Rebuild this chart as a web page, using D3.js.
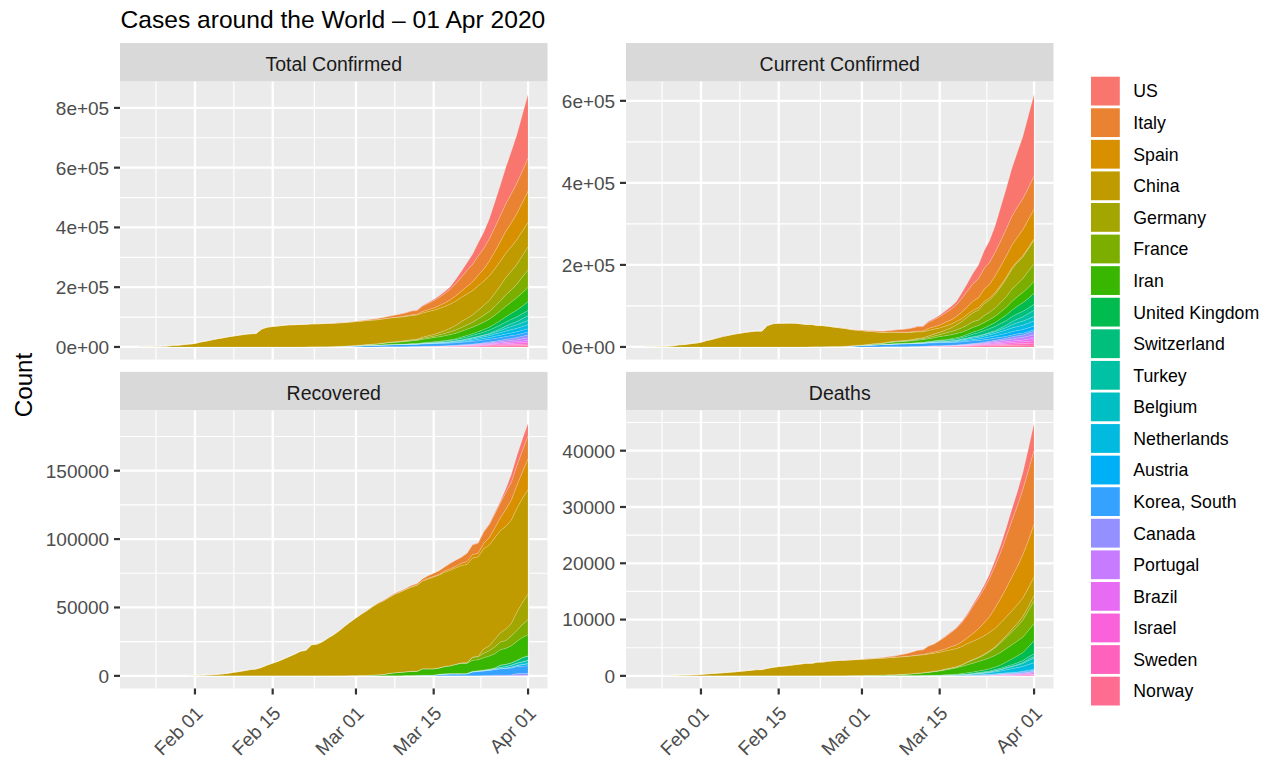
<!DOCTYPE html>
<html><head><meta charset="utf-8">
<script src="https://cdn.jsdelivr.net/npm/d3@7"></script>
<style>body{margin:0;background:#fff;} text{font-family:"Liberation Sans", Arial, Helvetica, sans-serif;}</style>
</head><body><svg id="chart" width="1271" height="759"></svg>
<script>
// ---------- categories ----------
const countries = ["US","Italy","Spain","China","Germany","France","Iran","United Kingdom","Switzerland","Turkey","Belgium","Netherlands","Austria","Korea, South","Canada","Portugal","Brazil","Israel","Sweden","Norway"];
const palette = ["#F8766D","#EA8331","#D89000","#C09B00","#A3A500","#7CAE00","#39B600","#00BB4E","#00BF7D","#00C1A3","#00BFC4","#00BAE0","#00B0F6","#35A2FF","#9590FF","#C77CFF","#E76BF3","#FA62DB","#FF62BC","#FF6C91"];
const firstDay = "2020-01-22", lastDay = "2020-04-01"; // one value per day
const facetTitles = ["Total Confirmed","Current Confirmed","Recovered","Deaths"];
const ticksTotal = [0,200000,400000,600000,800000];
const ticksCurrent = [0,200000,400000,600000];
const ticksRecovered = [0,50000,100000,150000];
const ticksDeaths = [0,10000,20000,30000,40000];
const xTickDates = ["2020-02-01","2020-02-15","2020-03-01","2020-03-15","2020-04-01"];

// ---------- series (daily, Jan 22 .. Apr 01) ----------
const confirmedUS=[1,1,2,2,5,5,5,5,5,7, 8,8,11,11,11,11,11,11,11,11, 12,12,13,13,13,13,13,13,13,13, 15,15,51,51,51,53,59,60,68,74, 98,118,149,217,262,402,518,583,959,1281, 1663,2179,2727,3499,4632,6421,7783,13747,19273,25600, 33276,43847,53740,65778,83836,101657,121478,140886,161807,188172, 213372];
const deathsUS=[0,0,0,0,0,0,0,0,0,0, 0,0,0,0,0,0,0,0,0,0, 0,0,0,0,0,0,0,0,0,0, 0,0,0,0,0,0,0,0,1,1, 6,7,11,12,14,17,21,22,28,36, 40,47,54,63,85,108,118,200,244,307, 427,552,706,942,1209,1581,2026,2467,2978,3873, 4757];
const recoveredUS=[0,0,0,0,0,0,0,0,0,0, 0,0,0,0,0,0,0,0,3,3, 3,3,3,3,3,3,3,3,3,3, 5,5,5,5,6,6,6,6,7,7, 7,7,7,7,7,7,7,7,8,8, 12,12,12,12,17,17,105,121,147,176, 178,348,361,681,869,1072,2665,5644,7024,8474, 9001];

const confirmedItaly=[0,0,0,0,0,0,0,0,0,2, 2,2,2,2,2,2,3,3,3,3, 3,3,3,3,3,3,3,3,3,3, 20,62,155,229,322,453,655,888,1128,1694, 2036,2502,3089,3858,4636,5883,7375,9172,10149,12462, 12462,17660,21157,24747,27980,31506,35713,41035,47021,53578, 59138,63927,69176,74386,80589,86498,92472,97689,101739,105792, 110574];
const deathsItaly=[0,0,0,0,0,0,0,0,0,0, 0,0,0,0,0,0,0,0,0,0, 0,0,0,0,0,0,0,0,0,0, 1,2,3,7,10,12,17,21,29,34, 52,79,107,148,197,233,366,463,631,827, 827,1266,1441,1809,2158,2503,2978,3405,4032,4825, 5476,6077,6820,7503,8215,9134,10023,10779,11591,12428, 13155];
const recoveredItaly=[0,0,0,0,0,0,0,0,0,0, 0,0,0,0,0,0,0,0,0,0, 0,0,0,0,0,0,0,0,0,0, 0,1,2,2,2,3,45,46,46,83, 149,160,276,414,523,589,622,724,724,1045, 1045,1439,1966,2335,2749,2941,4025,4440,4440,6072, 7024,7432,8326,9362,10361,10950,12384,13030,14620,15729, 16847];

const confirmedSpain=[0,0,0,0,0,0,0,0,0,0, 1,1,1,1,1,1,1,1,2,2, 2,2,2,2,2,2,2,2,2,2, 2,2,2,2,6,13,15,32,45,84, 120,165,222,259,400,500,673,1073,1695,2277, 2277,5232,6391,7798,9942,11748,13910,17963,20410,25374, 28768,35136,39885,49515,57786,65719,73235,80110,87956,95923, 104118];
const deathsSpain=[0,0,0,0,0,0,0,0,0,0, 0,0,0,0,0,0,0,0,0,0, 0,0,0,0,0,0,0,0,0,0, 0,0,0,0,0,0,0,0,0,0, 0,1,2,3,5,10,17,28,35,54, 55,133,195,289,342,533,623,830,1043,1375, 1772,2311,2808,3647,4365,5138,5982,6803,7716,8464, 9387];
const recoveredSpain=[0,0,0,0,0,0,0,0,0,0, 0,0,0,0,0,0,0,0,0,0, 0,0,0,0,2,2,2,2,2,2, 2,2,2,2,2,2,2,2,2,2, 2,2,2,2,2,30,30,32,32,183, 183,193,517,517,530,1028,1081,1107,1588,2125, 2575,2575,3794,5367,7015,9357,12285,14709,16780,19259, 22647];

const confirmedChina=[548,643,920,1406,2075,2877,5509,6087,8141,9802, 11891,16630,19716,23707,27440,30587,34110,36814,39829,42354, 44386,44759,59895,66358,68413,70513,72434,74211,74619,75077, 75550,77001,77022,77241,77754,78166,78600,78928,79356,79932, 80136,80261,80386,80537,80690,80770,80823,80860,80887,80921, 80932,80945,80977,81003,81033,81058,81102,81156,81250,81305, 81435,81498,81591,81661,81782,81897,81999,82122,82198,82279, 82361];
const deathsChina=[17,18,26,42,56,82,131,133,171,213, 259,361,425,490,562,632,717,804,904,1011, 1111,1116,1368,1520,1662,1765,1863,2002,2114,2236, 2236,2441,2443,2593,2663,2715,2744,2788,2835,2870, 2912,2945,2981,3013,3070,3097,3119,3136,3158,3169, 3176,3189,3199,3213,3226,3237,3245,3249,3253,3259, 3274,3274,3281,3285,3291,3296,3299,3304,3308,3309, 3316];
const recoveredChina=[28,30,36,39,49,58,101,120,135,214, 275,463,614,843,1115,1476,1999,2596,3219,3918, 4636,5082,6217,7977,9298,10755,12462,14206,15962,18014, 18704,22699,23187,25015,27676,30084,32930,36329,39320,42162, 44854,47450,50001,52292,53944,55539,57388,58804,60181,61644, 62901,64196,65660,67017,67910,68798,69755,70535,71266,71857, 72362,72814,73280,73773,74181,74720,75100,75582,75923,76206, 76405];

const confirmedGermany=[0,0,0,0,0,1,4,4,4,5, 8,10,12,12,12,12,13,13,14,14, 16,16,16,16,16,16,16,16,16,16, 16,16,16,16,17,27,46,48,79,130, 159,196,262,482,670,799,1040,1176,1457,1908, 2078,3675,4585,5795,7272,9257,12327,15320,19848,22213, 24873,29056,32986,37323,43938,50871,57695,62095,66885,71808, 77872];
const deathsGermany=[0,0,0,0,0,0,0,0,0,0, 0,0,0,0,0,0,0,0,0,0, 0,0,0,0,0,0,0,0,0,0, 0,0,0,0,0,0,0,0,0,0, 0,0,0,0,0,0,0,2,2,3, 3,7,9,11,17,24,28,44,67,84, 94,123,157,206,267,342,433,533,645,775, 920];
const recoveredGermany=[0,0,0,0,0,0,0,0,0,0, 0,0,0,0,0,0,0,0,0,0, 0,0,1,1,1,1,1,12,12,12, 14,14,14,14,14,15,16,16,16,16, 16,16,16,16,17,18,18,18,18,25, 25,46,46,46,67,67,105,113,180,233, 266,266,3243,3547,5673,6658,8481,9211,13500,16100, 18700];

const confirmedFrance=[0,0,2,3,3,3,4,5,5,5, 6,6,6,6,6,6,6,11,11,11, 11,11,11,11,12,12,12,12,12,12, 12,12,12,12,14,18,38,57,100,130, 191,204,288,380,656,959,1136,1219,1794,2293, 2293,3681,4496,4532,6683,7715,9124,10970,12758,14463, 16243,20123,22622,25600,29551,33402,38105,40708,45170,52827, 57749];
const deathsFrance=[0,0,0,0,0,0,0,0,0,0, 0,0,0,0,0,0,0,0,0,0, 0,0,0,0,1,1,1,1,1,1, 1,1,1,1,1,2,2,2,2,2, 3,4,4,6,9,11,19,19,33,48, 48,79,91,91,148,148,148,243,450,562, 674,860,1100,1331,1696,1995,2314,2606,3024,3523, 4043];
const recoveredFrance=[0,0,0,0,0,0,0,0,0,0, 0,0,0,0,0,0,0,0,0,0, 0,2,2,2,4,4,4,4,4,4, 4,4,4,4,11,11,11,11,12,12, 12,12,12,12,12,12,12,12,12,12, 12,12,12,12,12,12,12,12,12,12, 2200,2206,3250,3907,4955,5707,5724,7226,7964,9513, 11053];

const confirmedIran=[0,0,0,0,0,0,0,0,0,0, 0,0,0,0,0,0,0,0,0,0, 0,0,0,0,0,0,0,0,2,5, 18,28,43,61,95,139,245,388,593,978, 1501,2336,2922,3513,4747,5823,6566,7161,8042,9000, 10075,11364,12729,13938,14991,16169,17361,18407,19644,20610, 21638,23049,24811,27017,29406,32332,35408,38309,41495,44605, 47593];
const deathsIran=[0,0,0,0,0,0,0,0,0,0, 0,0,0,0,0,0,0,0,0,0, 0,0,0,0,0,0,0,0,2,2, 4,5,8,12,16,19,26,34,43,54, 66,77,92,107,124,145,194,237,291,354, 429,514,611,724,853,988,1135,1284,1433,1556, 1685,1812,1934,2077,2234,2378,2517,2640,2757,2898, 3036];
const recoveredIran=[0,0,0,0,0,0,0,0,0,0, 0,0,0,0,0,0,0,0,0,0, 0,0,0,0,0,0,0,0,0,0, 0,0,0,0,49,49,49,73,123,175, 291,291,552,739,913,1669,2134,2394,2731,2959, 2959,4590,4590,4590,4590,5389,5710,6745,7635,7635, 7931,7931,8913,9625,10457,11133,11679,12391,13911,14656, 15473];

const confirmedUK=[0,0,0,0,0,0,0,0,0,2, 2,2,2,2,2,2,3,3,3,8, 8,9,9,9,9,9,9,9,9,9, 9,9,9,13,13,13,15,20,23,36, 40,51,86,116,164,209,278,321,383,460, 460,798,1140,1145,1551,1960,2642,2716,4014,5067, 5745,6726,8164,9640,11812,14745,17312,19780,22453,25481, 29865];
const deathsUK=[0,0,0,0,0,0,0,0,0,0, 0,0,0,0,0,0,0,0,0,0, 0,0,0,0,0,0,0,0,0,0, 0,0,0,0,0,0,0,0,0,0, 0,0,0,1,2,2,3,4,6,8, 8,8,21,21,56,56,72,138,178,234, 282,336,423,466,580,761,1021,1231,1411,1793, 2357];
const recoveredUK=[0,0,0,0,0,0,0,0,0,0, 0,0,0,0,0,0,0,0,0,0, 1,1,1,1,1,1,8,8,8,8, 8,8,8,8,8,8,8,8,8,8, 8,8,8,8,18,18,18,18,18,18, 19,19,19,19,52,53,53,67,67,67, 65,65,65,93,135,135,135,135,135,135, 179];

const confirmedSwitzerland=[0,0,0,0,0,0,0,0,0,0, 0,0,0,0,0,0,0,0,0,0, 0,0,0,0,0,0,0,0,0,0, 0,0,0,0,1,1,8,8,18,27, 42,56,90,114,214,268,337,374,491,652, 652,1139,1359,2200,2200,2700,3028,4075,5294,6575, 7474,8795,9877,10897,11811,12928,14076,14829,15922,16605, 17768];
const deathsSwitzerland=[0,0,0,0,0,0,0,0,0,0, 0,0,0,0,0,0,0,0,0,0, 0,0,0,0,0,0,0,0,0,0, 0,0,0,0,0,0,0,0,0,0, 0,0,0,1,1,1,2,2,3,4, 4,11,13,14,14,27,28,41,54,75, 98,120,122,153,191,231,264,300,359,433, 488];
const recoveredSwitzerland=[0,0,0,0,0,0,0,0,0,0, 0,0,0,0,0,0,0,0,0,0, 0,0,0,0,0,0,0,0,0,0, 0,0,0,0,0,0,0,0,0,0, 0,0,2,2,3,3,3,3,3,4, 4,4,4,4,4,4,15,15,15,15, 131,131,131,131,131,1530,1530,1595,1823,2967, 2967];

const confirmedTurkey=[0,0,0,0,0,0,0,0,0,0, 0,0,0,0,0,0,0,0,0,0, 0,0,0,0,0,0,0,0,0,0, 0,0,0,0,0,0,0,0,0,0, 0,0,0,0,0,0,0,0,0,1, 1,5,5,6,18,47,98,192,359,670, 1236,1529,1872,2433,3629,5698,7402,9217,10827,13531, 15679];
const deathsTurkey=[0,0,0,0,0,0,0,0,0,0, 0,0,0,0,0,0,0,0,0,0, 0,0,0,0,0,0,0,0,0,0, 0,0,0,0,0,0,0,0,0,0, 0,0,0,0,0,0,0,0,0,0, 0,0,0,0,0,1,1,3,4,9, 30,37,44,59,75,92,108,131,168,214, 277];
const recoveredTurkey=[0,0,0,0,0,0,0,0,0,0, 0,0,0,0,0,0,0,0,0,0, 0,0,0,0,0,0,0,0,0,0, 0,0,0,0,0,0,0,0,0,0, 0,0,0,0,0,0,0,0,0,0, 0,0,0,0,0,0,0,0,0,0, 0,0,0,26,26,42,70,105,105,243, 333];

const confirmedBelgium=[0,0,0,0,0,0,0,0,0,0, 0,0,0,1,1,1,1,1,1,1, 1,1,1,1,1,1,1,1,1,1, 1,1,1,1,1,1,1,1,1,2, 8,13,23,50,109,169,200,239,267,314, 314,559,689,886,1058,1243,1486,1795,2257,2815, 3401,3743,4269,4937,6235,7284,9134,10836,11899,12775, 13964];
const deathsBelgium=[0,0,0,0,0,0,0,0,0,0, 0,0,0,0,0,0,0,0,0,0, 0,0,0,0,0,0,0,0,0,0, 0,0,0,0,0,0,0,0,0,0, 0,0,0,0,0,0,0,0,0,3, 3,3,4,4,5,10,14,21,37,67, 75,88,122,178,220,289,353,431,513,705, 828];
const recoveredBelgium=[0,0,0,0,0,0,0,0,0,0, 0,0,0,0,0,0,0,0,0,0, 0,0,0,0,0,0,0,0,0,0, 1,1,1,1,1,1,1,1,1,1, 1,1,1,1,1,1,1,1,1,1, 1,1,1,1,1,1,1,1,1,1, 263,340,410,547,675,858,1063,1359,1527,1696, 2132];

const confirmedNetherlands=[0,0,0,0,0,0,0,0,0,0, 0,0,0,0,0,0,0,0,0,0, 0,0,0,0,0,0,0,0,0,0, 0,0,0,0,0,0,1,1,6,10, 18,24,38,82,128,188,265,321,382,503, 503,806,962,1138,1416,1711,2058,2467,3003,3640, 4216,4764,5580,6438,7468,8647,9819,10930,11817,12667, 13696];
const deathsNetherlands=[0,0,0,0,0,0,0,0,0,0, 0,0,0,0,0,0,0,0,0,0, 0,0,0,0,0,0,0,0,0,0, 0,0,0,0,0,0,0,0,0,0, 0,0,0,0,1,1,3,3,4,5, 5,10,12,20,24,43,58,77,107,137, 180,214,277,357,435,547,640,772,865,1040, 1175];
const recoveredNetherlands=[0,0,0,0,0,0,0,0,0,0, 0,0,0,0,0,0,0,0,0,0, 0,0,0,0,0,0,0,0,0,0, 0,0,0,0,0,0,0,0,0,0, 0,0,0,0,0,0,0,0,0,0, 0,0,0,0,0,0,0,0,0,2, 2,2,2,3,3,3,3,253,253,253, 254];

const confirmedAustria=[0,0,0,0,0,0,0,0,0,0, 0,0,0,0,0,0,0,0,0,0, 0,0,0,0,0,0,0,0,0,0, 0,0,0,0,2,2,3,3,9,14, 18,21,29,41,55,79,104,131,182,246, 302,504,655,860,1018,1332,1646,2013,2388,2814, 3582,4474,5283,5588,6909,7657,8271,8788,9618,10180, 10711];
const deathsAustria=[0,0,0,0,0,0,0,0,0,0, 0,0,0,0,0,0,0,0,0,0, 0,0,0,0,0,0,0,0,0,0, 0,0,0,0,0,0,0,0,0,0, 0,0,0,0,0,0,0,0,0,0, 1,1,1,1,3,3,4,6,6,8, 16,21,28,30,49,58,68,86,108,128, 146];
const recoveredAustria=[0,0,0,0,0,0,0,0,0,0, 0,0,0,0,0,0,0,0,0,0, 0,0,0,0,0,0,0,0,0,0, 0,0,0,0,0,0,0,0,0,0, 0,0,0,0,0,0,0,0,0,0, 0,6,6,6,6,9,9,9,9,9, 9,9,9,9,9,225,225,479,636,1095, 1436];

const confirmedKorea=[1,1,2,2,3,4,4,4,4,11, 12,15,15,16,19,23,24,24,25,27, 28,28,28,28,28,29,30,31,31,104, 204,433,602,833,977,1261,1766,2337,3150,3736, 4335,5186,5621,6088,6593,7041,7314,7478,7513,7755, 7869,7979,8086,8162,8236,8320,8413,8565,8652,8799, 8897,8961,9037,9137,9241,9332,9478,9583,9661,9786, 9887];
const deathsKorea=[0,0,0,0,0,0,0,0,0,0, 0,0,0,0,0,0,0,0,0,0, 0,0,0,0,0,0,0,0,0,1, 2,2,6,8,10,12,13,13,16,17, 28,28,35,35,42,44,50,53,54,60, 66,66,72,75,75,81,84,91,94,102, 104,111,111,120,126,131,139,144,152,158, 165];
const recoveredKorea=[0,0,0,0,0,0,0,0,0,0, 0,0,0,0,0,1,1,1,1,3, 3,7,7,7,9,9,10,12,12,16, 16,16,18,18,22,22,22,22,27,30, 30,30,30,41,41,135,135,135,247,288, 333,510,510,510,1137,1407,1540,1540,1540,1540, 2909,3166,3507,3730,4144,4528,4811,5033,5228,5408, 5567];

const confirmedCanada=[0,0,0,0,1,1,2,2,2,4, 4,4,4,4,5,5,7,7,7,7, 7,7,7,7,7,7,8,8,8,8, 9,9,9,10,11,11,13,14,20,24, 27,30,33,37,49,54,64,77,79,108, 117,193,198,252,415,478,657,800,943,1277, 1469,2088,2790,3251,4042,4682,5576,6280,7398,8527, 9560];
const deathsCanada=[0,0,0,0,0,0,0,0,0,0, 0,0,0,0,0,0,0,0,0,0, 0,0,0,0,0,0,0,0,0,0, 0,0,0,0,0,0,0,0,0,0, 0,0,0,0,0,0,0,1,1,1, 1,1,1,1,4,5,8,9,12,19, 21,25,26,30,38,54,61,64,80,101, 109];
const recoveredCanada=[0,0,0,0,0,0,0,0,0,0, 0,0,0,0,0,0,0,0,0,0, 0,0,0,0,0,0,0,0,0,0, 0,0,0,0,0,3,3,3,3,6, 6,6,6,6,6,6,6,6,6,8, 8,8,8,9,9,9,9,9,9,9, 9,9,112,184,466,466,466,466,1324,1324, 1324];

const confirmedPortugal=[0,0,0,0,0,0,0,0,0,0, 0,0,0,0,0,0,0,0,0,0, 0,0,0,0,0,0,0,0,0,0, 0,0,0,0,0,0,0,0,0,0, 2,2,5,8,13,20,30,30,41,59, 59,112,169,245,331,448,448,785,1020,1280, 1600,2060,2362,2995,3544,4268,5170,5962,6408,7443, 8251];
const deathsPortugal=[0,0,0,0,0,0,0,0,0,0, 0,0,0,0,0,0,0,0,0,0, 0,0,0,0,0,0,0,0,0,0, 0,0,0,0,0,0,0,0,0,0, 0,0,0,0,0,0,0,0,0,0, 0,0,0,0,0,1,2,3,6,12, 14,23,33,43,60,76,100,119,140,160, 187];
const recoveredPortugal=[0,0,0,0,0,0,0,0,0,0, 0,0,0,0,0,0,0,0,0,0, 0,0,0,0,0,0,0,0,0,0, 0,0,0,0,0,0,0,0,0,0, 0,0,0,0,0,0,0,0,0,0, 0,1,2,2,3,3,3,5,5,5, 5,14,22,22,43,43,43,43,43,43, 68];

const confirmedBrazil=[0,0,0,0,0,0,0,0,0,0, 0,0,0,0,0,0,0,0,0,0, 0,0,0,0,0,0,0,0,0,0, 0,0,0,0,0,1,1,1,2,2, 2,2,4,4,13,13,20,25,31,38, 52,151,151,162,200,321,372,621,793,1021, 1546,1924,2247,2554,2985,3417,3904,4256,4579,5717, 6836];
const deathsBrazil=[0,0,0,0,0,0,0,0,0,0, 0,0,0,0,0,0,0,0,0,0, 0,0,0,0,0,0,0,0,0,0, 0,0,0,0,0,0,0,0,0,0, 0,0,0,0,0,0,0,0,0,0, 0,0,0,0,0,1,3,6,11,15, 25,34,46,59,77,92,111,136,159,201, 240];
const recoveredBrazil=[0,0,0,0,0,0,0,0,0,0, 0,0,0,0,0,0,0,0,0,0, 0,0,0,0,0,0,0,0,0,0, 0,0,0,0,0,0,0,0,0,0, 0,0,0,0,0,0,0,0,0,0, 0,0,0,0,0,2,2,2,2,2, 2,2,2,2,6,6,6,6,120,127, 127];

const confirmedIsrael=[0,0,0,0,0,0,0,0,0,0, 0,0,0,0,0,0,0,0,0,0, 0,0,0,0,0,0,0,0,0,0, 1,1,1,1,1,2,3,3,3,7, 10,10,12,15,20,37,43,61,61,75, 100,126,161,200,250,304,427,529,712,883, 1071,1238,1656,2369,2693,3035,3619,4247,4695,5358, 6092];
const deathsIsrael=[0,0,0,0,0,0,0,0,0,0, 0,0,0,0,0,0,0,0,0,0, 0,0,0,0,0,0,0,0,0,0, 0,0,0,0,0,0,0,0,0,0, 0,0,0,0,0,0,0,0,0,0, 0,0,0,0,0,0,0,0,0,1, 1,1,3,5,8,12,12,15,16,20, 26];
const recoveredIsrael=[0,0,0,0,0,0,0,0,0,0, 0,0,0,0,0,0,0,0,0,0, 0,0,0,0,0,0,0,0,0,0, 0,0,0,0,0,0,0,0,0,0, 1,1,1,1,1,1,1,1,1,2, 2,4,4,4,11,11,11,11,11,11, 37,37,37,68,68,79,89,132,132,161, 224];

const confirmedSweden=[0,0,0,0,0,0,0,0,0,1, 1,1,1,1,1,1,1,1,1,1, 1,1,1,1,1,1,1,1,1,1, 1,1,1,1,1,2,7,7,12,14, 15,21,35,94,101,161,203,248,355,500, 599,814,961,1022,1103,1190,1279,1439,1639,1763, 1934,2046,2286,2526,2840,3069,3447,3700,4028,4435, 4947];
const deathsSweden=[0,0,0,0,0,0,0,0,0,0, 0,0,0,0,0,0,0,0,0,0, 0,0,0,0,0,0,0,0,0,0, 0,0,0,0,0,0,0,0,0,0, 0,0,0,0,0,0,0,0,0,0, 1,1,2,3,6,7,10,11,16,20, 21,25,36,62,77,105,105,110,146,180, 239];
const recoveredSweden=[0,0,0,0,0,0,0,0,0,0, 0,0,0,0,0,0,0,0,0,0, 0,0,0,0,0,0,0,0,0,0, 0,0,0,0,0,0,0,0,0,0, 0,0,0,0,0,0,0,0,0,0, 1,1,1,1,1,1,1,1,16,16, 16,16,16,16,16,16,16,16,16,16, 16];

const confirmedNorway=[0,0,0,0,0,0,0,0,0,0, 0,0,0,0,0,0,0,0,0,0, 0,0,0,0,0,0,0,0,0,0, 0,0,0,0,0,1,1,6,15,19, 25,32,56,87,108,147,176,205,400,598, 702,996,1090,1221,1333,1463,1550,1746,1914,2118, 2385,2621,2863,3084,3369,3755,4015,4284,4445,4641, 4863];
const deathsNorway=[0,0,0,0,0,0,0,0,0,0, 0,0,0,0,0,0,0,0,0,0, 0,0,0,0,0,0,0,0,0,0, 0,0,0,0,0,0,0,0,0,0, 0,0,0,0,0,0,0,0,0,0, 0,0,1,1,3,3,3,3,6,7, 7,10,12,14,14,19,23,25,32,39, 44];
const recoveredNorway=[0,0,0,0,0,0,0,0,0,0, 0,0,0,0,0,0,0,0,0,0, 0,0,0,0,0,0,0,0,0,0, 0,0,0,0,0,0,0,0,0,0, 0,0,0,0,0,0,0,0,0,0, 1,1,1,1,1,1,1,1,1,1, 1,6,6,6,6,7,7,7,7,7, 7];

// ---------- assemble (order = countries) ----------
const confirmedSeries=[confirmedUS,confirmedItaly,confirmedSpain,confirmedChina,confirmedGermany,confirmedFrance,confirmedIran,confirmedUK,confirmedSwitzerland,confirmedTurkey,confirmedBelgium,confirmedNetherlands,confirmedAustria,confirmedKorea,confirmedCanada,confirmedPortugal,confirmedBrazil,confirmedIsrael,confirmedSweden,confirmedNorway];
const deathsSeries=[deathsUS,deathsItaly,deathsSpain,deathsChina,deathsGermany,deathsFrance,deathsIran,deathsUK,deathsSwitzerland,deathsTurkey,deathsBelgium,deathsNetherlands,deathsAustria,deathsKorea,deathsCanada,deathsPortugal,deathsBrazil,deathsIsrael,deathsSweden,deathsNorway];
const recoveredSeries=[recoveredUS,recoveredItaly,recoveredSpain,recoveredChina,recoveredGermany,recoveredFrance,recoveredIran,recoveredUK,recoveredSwitzerland,recoveredTurkey,recoveredBelgium,recoveredNetherlands,recoveredAustria,recoveredKorea,recoveredCanada,recoveredPortugal,recoveredBrazil,recoveredIsrael,recoveredSweden,recoveredNorway];
// current confirmed = confirmed - recovered - deaths
const currentSeries = confirmedSeries.map((s,k)=> s.map((v,i)=> v - recoveredSeries[k][i] - deathsSeries[k][i]));

const parseDay = d3.utcParse("%Y-%m-%d");
const dates = d3.utcDay.range(parseDay(firstDay), d3.utcDay.offset(parseDay(lastDay),1));

const svg = d3.select("#chart");

// ---------- layout ----------
const colX=[120, 626], panelW=427.5;
const stripTop=[43, 371.9], stripH=38.6, panelH=278;
const fmtSci = v => { if(v===0) return "0e+00"; const e=Math.floor(Math.log10(v)); const m=Math.round(v/Math.pow(10,e)); return m+"e+"+String(e).padStart(2,"0"); };
const fmtPlain = v => String(v);
const facets=[
 {title:facetTitles[0], series:confirmedSeries, ticks:ticksTotal, fmt:fmtSci, c:0, r:0},
 {title:facetTitles[1], series:currentSeries, ticks:ticksCurrent, fmt:fmtSci, c:1, r:0},
 {title:facetTitles[2], series:recoveredSeries, ticks:ticksRecovered, fmt:fmtPlain, c:0, r:1},
 {title:facetTitles[3], series:deathsSeries, ticks:ticksDeaths, fmt:fmtPlain, c:1, r:1},
];

const d0=dates[0], d1=dates[dates.length-1];
const padMs=(d1-d0)*0.05;
const xMajor = xTickDates.map(parseDay);
// minor breaks: midpoints between majors, extended one step beyond each end
function minorsOf(major, lo, hi){
  const b=major.map(Number);
  const first=b[1]-b[0], last=b[b.length-1]-b[b.length-2];
  const ext=[b[0]-first, ...b, b[b.length-1]+last];
  const out=[];
  for(let i=0;i<ext.length-1;i++){ const m=(ext[i]+ext[i+1])/2; if(m>=lo && m<=hi) out.push(m); }
  return out;
}

const keysBottomUp = countries.slice().reverse();
const colorOf = new Map(countries.map((c,i)=>[c,palette[i]]));

facets.forEach(f=>{
  const x0=colX[f.c], sTop=stripTop[f.r], pTop=sTop+stripH, pBot=pTop+panelH;
  const table = dates.map((d,i)=>{ const o={date:d}; countries.forEach((c,k)=>o[c]=f.series[k][i]); return o; });
  const layers = d3.stack().keys(keysBottomUp)(table);
  const M = d3.max(layers[layers.length-1], d=>d[1]);
  const y = d3.scaleLinear().domain([-0.05*M, 1.05*M]).range([pBot, pTop]);
  const x = d3.scaleUtc().domain([new Date(+d0-padMs), new Date(+d1+padMs)]).range([x0, x0+panelW]);
  const g = svg.append("g");
  // strip
  g.append("rect").attr("x",x0).attr("y",sTop).attr("width",panelW).attr("height",stripH).attr("fill","#D9D9D9");
  g.append("text").attr("x",x0+panelW/2).attr("y",sTop+27.6).attr("text-anchor","middle")
   .attr("font-size","19.5px").attr("fill","#1A1A1A").text(f.title);
  // panel
  g.append("rect").attr("x",x0).attr("y",pTop).attr("width",panelW).attr("height",panelH).attr("fill","#EBEBEB");
  const [ylo, yhi] = y.domain();
  const yMin = minorsOf(f.ticks, ylo, yhi);
  const [xlo, xhi] = x.domain().map(Number);
  const xMin = minorsOf(xMajor, xlo, xhi);
  g.selectAll(null).data(yMin).enter().append("line")
   .attr("x1",x0).attr("x2",x0+panelW).attr("y1",d=>y(d)).attr("y2",d=>y(d)).attr("stroke","#fff").attr("stroke-width",1.15);
  g.selectAll(null).data(xMin).enter().append("line")
   .attr("y1",pTop).attr("y2",pBot).attr("x1",d=>x(new Date(d))).attr("x2",d=>x(new Date(d))).attr("stroke","#fff").attr("stroke-width",1.15);
  g.selectAll(null).data(f.ticks).enter().append("line")
   .attr("x1",x0).attr("x2",x0+panelW).attr("y1",d=>y(d)).attr("y2",d=>y(d)).attr("stroke","#fff").attr("stroke-width",2.3);
  g.selectAll(null).data(xMajor).enter().append("line")
   .attr("y1",pTop).attr("y2",pBot).attr("x1",d=>x(d)).attr("x2",d=>x(d)).attr("stroke","#fff").attr("stroke-width",2.3);
  // areas
  const area = d3.area().x(d=>x(d.data.date)).y0(d=>y(d[0])).y1(d=>y(d[1]));
  g.selectAll(null).data(layers).enter().append("path")
   .attr("d",area).attr("fill",d=>colorOf.get(d.key))
   .attr("stroke","#ffffff").attr("stroke-opacity",0.35).attr("stroke-width",0.5);
  // y axis
  g.selectAll(null).data(f.ticks).enter().append("line")
   .attr("x1",x0-6).attr("x2",x0).attr("y1",d=>y(d)).attr("y2",d=>y(d)).attr("stroke","#333333").attr("stroke-width",2.2);
  g.selectAll(null).data(f.ticks).enter().append("text")
   .attr("x",x0-10.8).attr("y",d=>y(d)).attr("dy","0.36em").attr("text-anchor","end")
   .attr("font-size","19px").attr("fill","#4D4D4D").text(d=>f.fmt(d));
  // x axis (bottom row only)
  if(f.r===1){
    g.selectAll(null).data(xMajor).enter().append("line")
     .attr("x1",d=>x(d)).attr("x2",d=>x(d)).attr("y1",pBot).attr("y2",pBot+6).attr("stroke","#333333").attr("stroke-width",2.2);
    const fmt = d3.utcFormat("%b %d");
    g.selectAll(null).data(xMajor).enter().append("text")
     .attr("transform",d=>`translate(${x(d)-5},${pBot+12})rotate(-45)`)
     .attr("dy","1.05em").attr("text-anchor","end")
     .attr("font-size","19px").attr("fill","#4D4D4D").text(d=>fmt(d));
  }
});

// title
svg.append("text").attr("x",120.5).attr("y",28).attr("font-size","24.6px").attr("fill","#000").text("Cases around the World \u2013 01 Apr 2020");
// y title
svg.append("text").attr("transform","translate(31.5,385)rotate(-90)").attr("text-anchor","middle")
  .attr("font-size","24.2px").attr("fill","#000").text("Count");

// legend
const legTop=75.3, pitch=31.58;
const lg = svg.append("g");
countries.forEach((c,i)=>{
  const cy = legTop + i*pitch;
  lg.append("rect").attr("x",1091).attr("y",cy+1.4).attr("width",28.8).attr("height",pitch-2.8).attr("fill",palette[i]);
  lg.append("text").attr("x",1133.3).attr("y",cy+pitch/2).attr("dy","0.36em").attr("font-size","17.7px").attr("fill","#000").text(c);
});
</script></body></html>
